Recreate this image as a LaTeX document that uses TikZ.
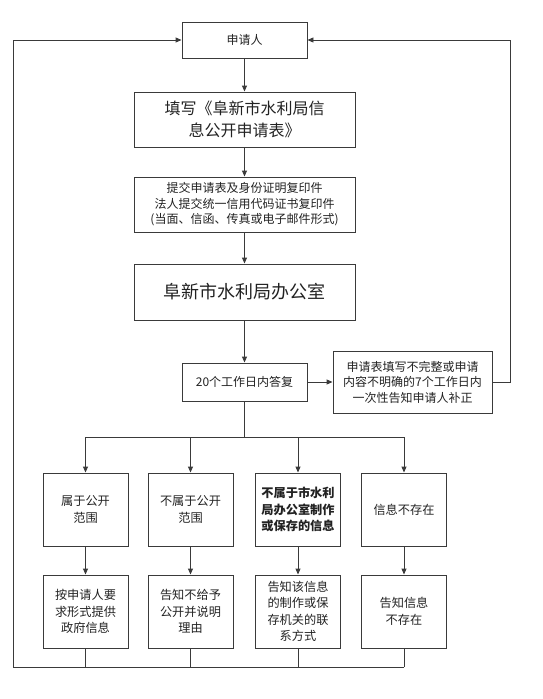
\documentclass[tikz,border=0pt]{standalone}
\usepackage{fontspec}
\setmainfont{Noto Sans CJK SC}
\usetikzlibrary{arrows.meta}
\definecolor{ln}{HTML}{3A3A3A}
\definecolor{tx}{HTML}{222222}
\tikzset{
  box/.style={draw=ln, line width=0.9pt, align=center, inner sep=2pt, text=tx, font=\fontsize{12}{15.5}\selectfont},
  cell/.style={box, minimum width=85pt, minimum height=73pt, font=\fontsize{12.2}{16.5}\selectfont},
  boldcell/.style={cell, font=\fontsize{12.2}{16.5}\selectfont\bfseries},
  conn/.style={draw=ln, line width=0.9pt},
  arr/.style={conn, -{Triangle[length=6pt,width=5pt]}},
}
\begin{document}
\begin{tikzpicture}[x=1pt,y=-1pt]
\useasboundingbox (0,0) rectangle (543,699);
\node[box, minimum width=125pt, minimum height=36pt] (app) at (244.5,40) {申请人};
\node[box, minimum width=221pt, minimum height=55pt, font=\fontsize{16}{22}\selectfont] (fill) at (244.5,119.5) {填写《阜新市水利局信\\息公开申请表》};
\node[box, minimum width=221pt, minimum height=55pt] (sub) at (244.5,204.5) {提交申请表及身份证明复印件\\法人提交统一信用代码证书复印件\\(当面、信函、传真或电子邮件形式)};
\node[box, minimum width=221pt, minimum height=56pt, font=\fontsize{18}{24}\selectfont] (off) at (244.5,292) {阜新市水利局办公室};
\node[box, minimum width=125pt, minimum height=38pt] (rep) at (244.5,382) {20个工作日内答复};
\node[box, minimum width=159pt, minimum height=62pt] (ntf) at (412.5,382) {申请表填写不完整或申请\\内容不明确的7个工作日内\\一次性告知申请人补正};
\node[cell] (r1a) at (85.5,509.5) {属于公开\\范围};
\node[cell] (r1b) at (190.5,509.5) {不属于公开\\范围};
\node[boldcell] (r1c) at (298,509.5) {不属于市水利\\局办公室制作\\或保存的信息};
\node[cell] (r1d) at (404,509.5) {信息不存在};
\node[cell] (r2a) at (85.5,611.5) {按申请人要\\求形式提供\\政府信息};
\node[cell] (r2b) at (190.5,611.5) {告知不给予\\公开并说明\\理由};
\node[cell] (r2c) at (298,611.5) {告知该信息\\的制作或保\\存机关的联\\系方式};
\node[cell] (r2d) at (404,611.5) {告知信息\\不存在};
\coordinate (br) at (244.5,437);
\coordinate (bl) at (13,667);
\coordinate (rr) at (510,382);
\draw[arr] (app) -- (fill);
\draw[arr] (fill) -- (sub);
\draw[arr] (sub) -- (off);
\draw[arr] (off) -- (rep);
\draw[arr] (rep) -- (ntf);
\draw[conn] (rep.south) -- (br);
\draw[conn] (br -| r1a) -- (br -| r1d);
\foreach \n in {a,b,c,d} {
  \draw[arr] (br -| r1\n) -- (r1\n.north);
  \draw[arr] (r1\n) -- (r2\n);
  \draw[conn] (r2\n.south) -- (bl -| r2\n);
}
\draw[conn] (bl -| r2d) -- (bl);
\draw[arr] (bl) -- (bl |- app) -- (app.west);
\draw[arr] (ntf.east) -- (rr) -- (rr |- app) -- (app.east);
\end{tikzpicture}
\end{document}
